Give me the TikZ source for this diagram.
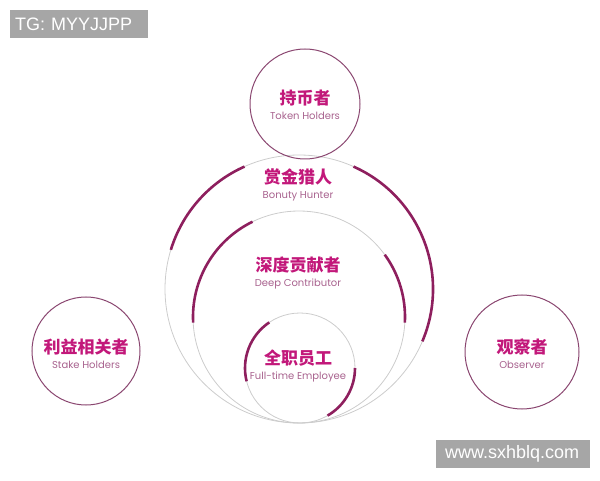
\documentclass[tikz,border=0pt]{standalone}
\usepackage{fontspec}
\setmainfont{Liberation Sans}
\newfontfamily\cjk{Noto Sans CJK SC}
\newfontfamily\enfont{Poppins}
\usetikzlibrary{positioning}
\definecolor{rosered}{HTML}{C2187A}
\definecolor{plum}{HTML}{8E1F5E}
\definecolor{circline}{HTML}{8A4670}
\definecolor{mauve}{HTML}{A8628E}
\definecolor{ringgray}{HTML}{CCCCCC}
\definecolor{boxgray}{HTML}{A6A6A6}
\begin{document}
\begin{tikzpicture}[x=1pt, y=1pt,
    main/.style = {draw=circline, circle, line width=1pt, inner sep=0, outer sep=0},
    ring/.style = {draw=ringgray, circle, line width=0.8pt, inner sep=0, outer sep=0},
    band/.style = {draw=plum, line width=2.6pt},
    title/.style = {text=rosered, font=\cjk\bfseries\fontsize{17}{17}\selectfont},
    sub/.style = {text=mauve, font=\enfont\fontsize{10}{10}\selectfont},
    tag/.style = {fill=boxgray, text=white, font=\fontsize{18}{18}\selectfont, inner ysep=0, minimum height=28, anchor=west}]
        \useasboundingbox (0,0) rectangle (600,480);

        % rings
        \node[ring, minimum size=268] (hunter) at (299,191) {};
        \node[ring, minimum size=212] (deep) at (299,163) {};
        \node[ring, minimum size=110] (staff) at (300,112) {};

        \draw[band] (hunter.114) arc[start angle=114, end angle=163, radius=134];
        \draw[band] (hunter.66) arc[start angle=66, end angle=-23, radius=134];
        \draw[band] (deep.116) arc[start angle=116, end angle=183, radius=106];
        \draw[band] (deep.36) arc[start angle=36, end angle=-3, radius=106];
        \draw[band] (staff.124) arc[start angle=124, end angle=194, radius=55];
        \draw[band] (staff.0) arc[start angle=0, end angle=-60, radius=55];

        \node[title] (hunter-zh) at (298,303) {赏金猎人};
        \node[sub, below=-1pt of hunter-zh] (hunter-en) {Bonuty Hunter};
        \node[title] (deep-zh) at (298,215) {深度贡献者};
        \node[sub, below=-1pt of deep-zh] (deep-en) {Deep Contributor};
        \node[title] (staff-zh) at (298,122) {全职员工};
        \node[sub, below=-1pt of staff-zh] (staff-en) {Full-time Employee};

        % outer circles
        \node[main, minimum size=110] (holders) at (305,376) {};
        \node[main, minimum size=108] (stake) at (86,129) {};
        \node[main, minimum size=114] (observer) at (522,128) {};

        \node[title] (holders-zh) at ([yshift=6]holders.center) {持币者};
        \node[sub, below=-1pt of holders-zh] (holders-en) {Token Holders};
        \node[title] (stake-zh) at ([yshift=4]stake.center) {利益相关者};
        \node[sub, below=-1pt of stake-zh] (stake-en) {Stake Holders};
        \node[title] (observer-zh) at ([yshift=5]observer.center) {观察者};
        \node[sub, below=-1pt of observer-zh] (observer-en) {Observer};

        \node[tag, text width=128, inner xsep=5] (tg) at (10,456) {TG: MYYJJPP};
        \node[tag, text width=136, inner xsep=9] (site) at (436,26) {www.sxhblq.com};

    \end{tikzpicture}
\end{document}
